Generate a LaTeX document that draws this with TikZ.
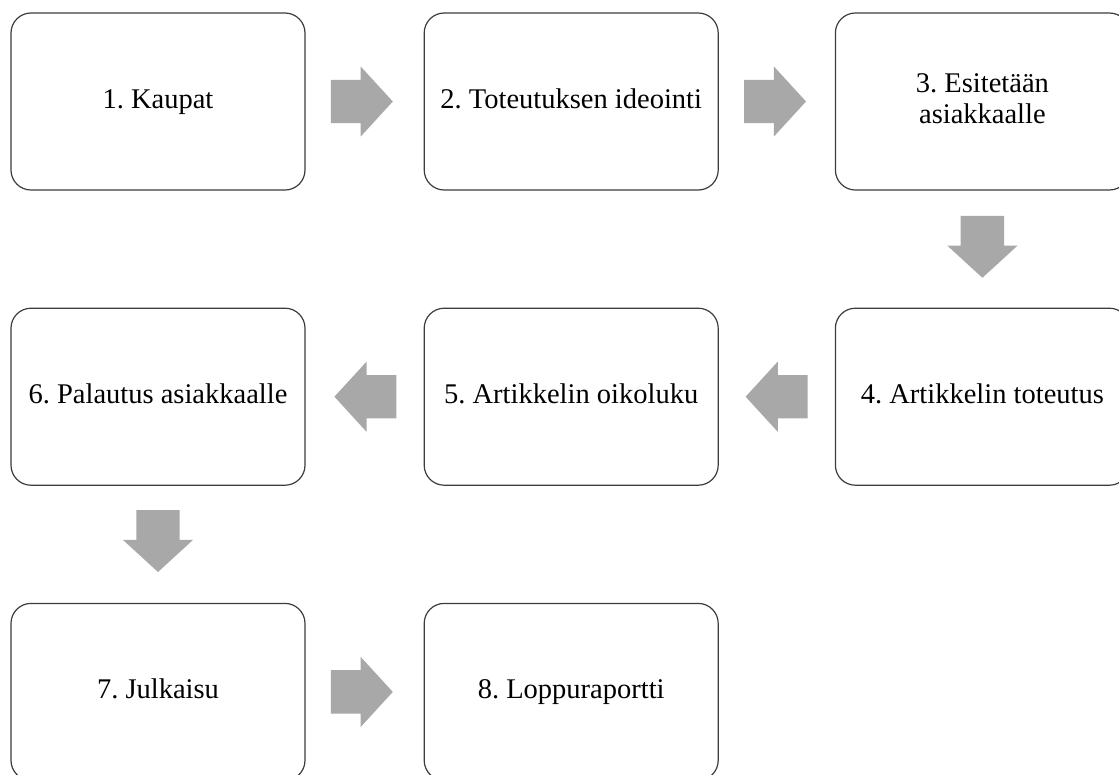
\documentclass[tikz,border=0pt]{standalone}
\usepackage{fontspec}
\setmainfont{Liberation Serif}
\frenchspacing
\usetikzlibrary{positioning,shapes.arrows}
\definecolor{arrowgray}{RGB}{168,168,168}
\definecolor{boxline}{RGB}{60,60,60}
\tikzset{
  stepbox/.style={draw=boxline,line width=1.2pt,rounded corners=20pt,
    minimum width=294pt,minimum height=177pt,inner sep=0pt,
    align=center,font=\fontsize{28.5}{31}\selectfont,
    text height=19pt,text depth=6pt},
  flowarrow/.style={single arrow,fill=arrowgray,draw=none,anchor=tail,
    inner xsep=0pt,inner ysep=21.5pt,
    minimum width=70pt,minimum height=62pt,
    single arrow head extend=13.5pt,single arrow tip angle=95},
  downarrow/.style={flowarrow,shape border rotate=270,
    inner xsep=21.5pt,inner ysep=0pt},
  backarrow/.style={flowarrow,shape border rotate=180},
  flow/.style={x=1pt,y=1pt,node distance=117pt and 118pt}
}

\begin{document}
\begin{tikzpicture}[flow]
  \useasboundingbox (0,0) rectangle (1119,-774);
  % boxes
  \node[stepbox] (kaupat) at (158,-101.5) {1. Kaupat};
  \node[stepbox,right=of kaupat] (ideointi) {2. Toteutuksen ideointi};
  \node[stepbox,right=116pt of ideointi,text height=50pt] (esitys) {3. Esitetään\\asiakkaalle};
  \node[stepbox,below=of esitys] (toteutus) {4. Artikkelin toteutus};
  \node[stepbox,below=of ideointi] (oikoluku) {5. Artikkelin oikoluku};
  \node[stepbox,below=of kaupat] (palautus) {6. Palautus asiakkaalle};
  \node[stepbox,below=of palautus] (julkaisu) {7. Julkaisu};
  \node[stepbox,right=of julkaisu] (raportti) {8. Loppuraportti};
  % arrows
  \node[flowarrow] (a12) at ([xshift=25pt]kaupat.east) {};
  \node[flowarrow] (a23) at ([xshift=25pt]ideointi.east) {};
  \node[downarrow] (a34) at ([yshift=-25pt]esitys.south) {};
  \node[backarrow] (a45) at ([xshift=-27pt]toteutus.west) {};
  \node[backarrow] (a56) at ([xshift=-27pt]oikoluku.west) {};
  \node[downarrow] (a67) at ([yshift=-24pt]palautus.south) {};
  \node[flowarrow] (a78) at ([xshift=25pt]julkaisu.east) {};
\end{tikzpicture}
\end{document}
